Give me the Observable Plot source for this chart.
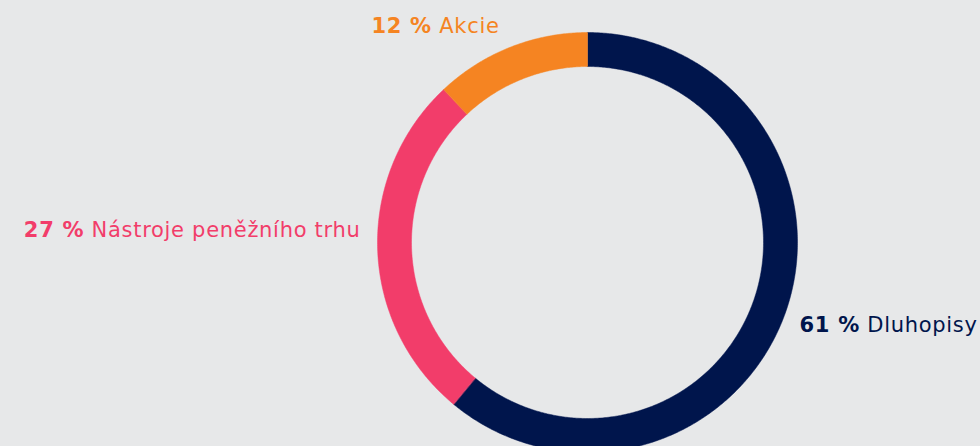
<!DOCTYPE html>
<html>
<head>
<meta charset="utf-8">
<script src="https://cdn.jsdelivr.net/npm/d3@7"></script>
<script src="https://cdn.jsdelivr.net/npm/@observablehq/plot@0.6"></script>
<style>
  html, body { margin: 0; padding: 0; background: #e7e8e9; }
  #chart svg { display: block; }
  .donut-label text { letter-spacing: 0.7px; }
</style>
</head>
<body>
<div id="chart"></div>
<script>
// ---- data ----
const categories = ["Dluhopisy", "Nástroje peněžního trhu", "Akcie"];
const shares = [61, 27, 12];
const colors = ["#00154c", "#f23d6a", "#f58422"];

// ---- layout ----
const W = 980, H = 446;
const CX = 587, CY = 242;           // donut centre (px)
const R_OUT = 210, R_IN = 176;      // radii (px)
// label anchors relative to centre (px) and anchor side
const labelLayout = [
  {dx: 212, dy: 83, anchor: "start"},   // Dluhopisy
  {dx: -227, dy: -12, anchor: "end"},   // Nástroje peněžního trhu
  {dx: -152, dy: -216, anchor: "middle"} // Akcie
];

const table = categories.map((c, i) => ({name: c, value: shares[i], color: colors[i]}));
const pie = d3.pie().sort(null).value(d => d.value)(table);

// ring-sector polygons in centre-relative pixel coords (clockwise from 12 o'clock)
function sector(a0, a1) {
  const n = Math.max(2, Math.ceil((a1 - a0) / (Math.PI / 360)));
  const outer = d3.range(n + 1).map(k => {
    const a = a0 + (a1 - a0) * k / n;
    return [R_OUT * Math.sin(a), -R_OUT * Math.cos(a)];
  });
  const inner = d3.range(n + 1).map(k => {
    const a = a1 - (a1 - a0) * k / n;
    return [R_IN * Math.sin(a), -R_IN * Math.cos(a)];
  });
  const ring = outer.concat(inner);
  ring.push(ring[0]);
  return ring;
}
const features = pie.map(p => ({
  type: "Feature",
  properties: {name: p.data.name, color: p.data.color},
  geometry: {type: "Polygon", coordinates: [sector(p.startAngle, p.endAngle)]}
}));

const labels = table.map((d, i) => ({
  ...d, x: labelLayout[i].dx, y: labelLayout[i].dy, anchor: labelLayout[i].anchor,
  text: `${d.value} % ${d.name}`
}));

const projection = d3.geoIdentity().translate([CX, CY]).scale(1);

const chart = Plot.plot({
  width: W, height: H,
  margin: 0,
  style: {background: "transparent", overflow: "visible"},
  projection,
  color: {type: "identity"},
  marks: [
    Plot.geo(features, {fill: d => d.properties.color, stroke: d => d.properties.color, strokeWidth: 0.5}),
    ...["start", "middle", "end"].map(a =>
      Plot.text(labels.filter(d => d.anchor === a), {
        x: "x", y: "y", text: "text", fill: "color",
        textAnchor: a, fontSize: 21, fontFamily: "DejaVu Sans",
        className: "donut-label"
      }))
  ]
});
document.getElementById("chart").appendChild(chart);

// split each label into bold percentage + regular name (still real text)
d3.select(chart).selectAll(".donut-label text").each(function () {
  const t = d3.select(this);
  const s = t.text();
  const m = s.match(/^(\d+ %)\s(.*)$/);
  if (!m) return;
  t.text(null);
  t.append("tspan").attr("font-weight", 700).text(m[1]);
  t.append("tspan").attr("font-weight", 400).text(" " + m[2]);
});
</script>
</body>
</html>
